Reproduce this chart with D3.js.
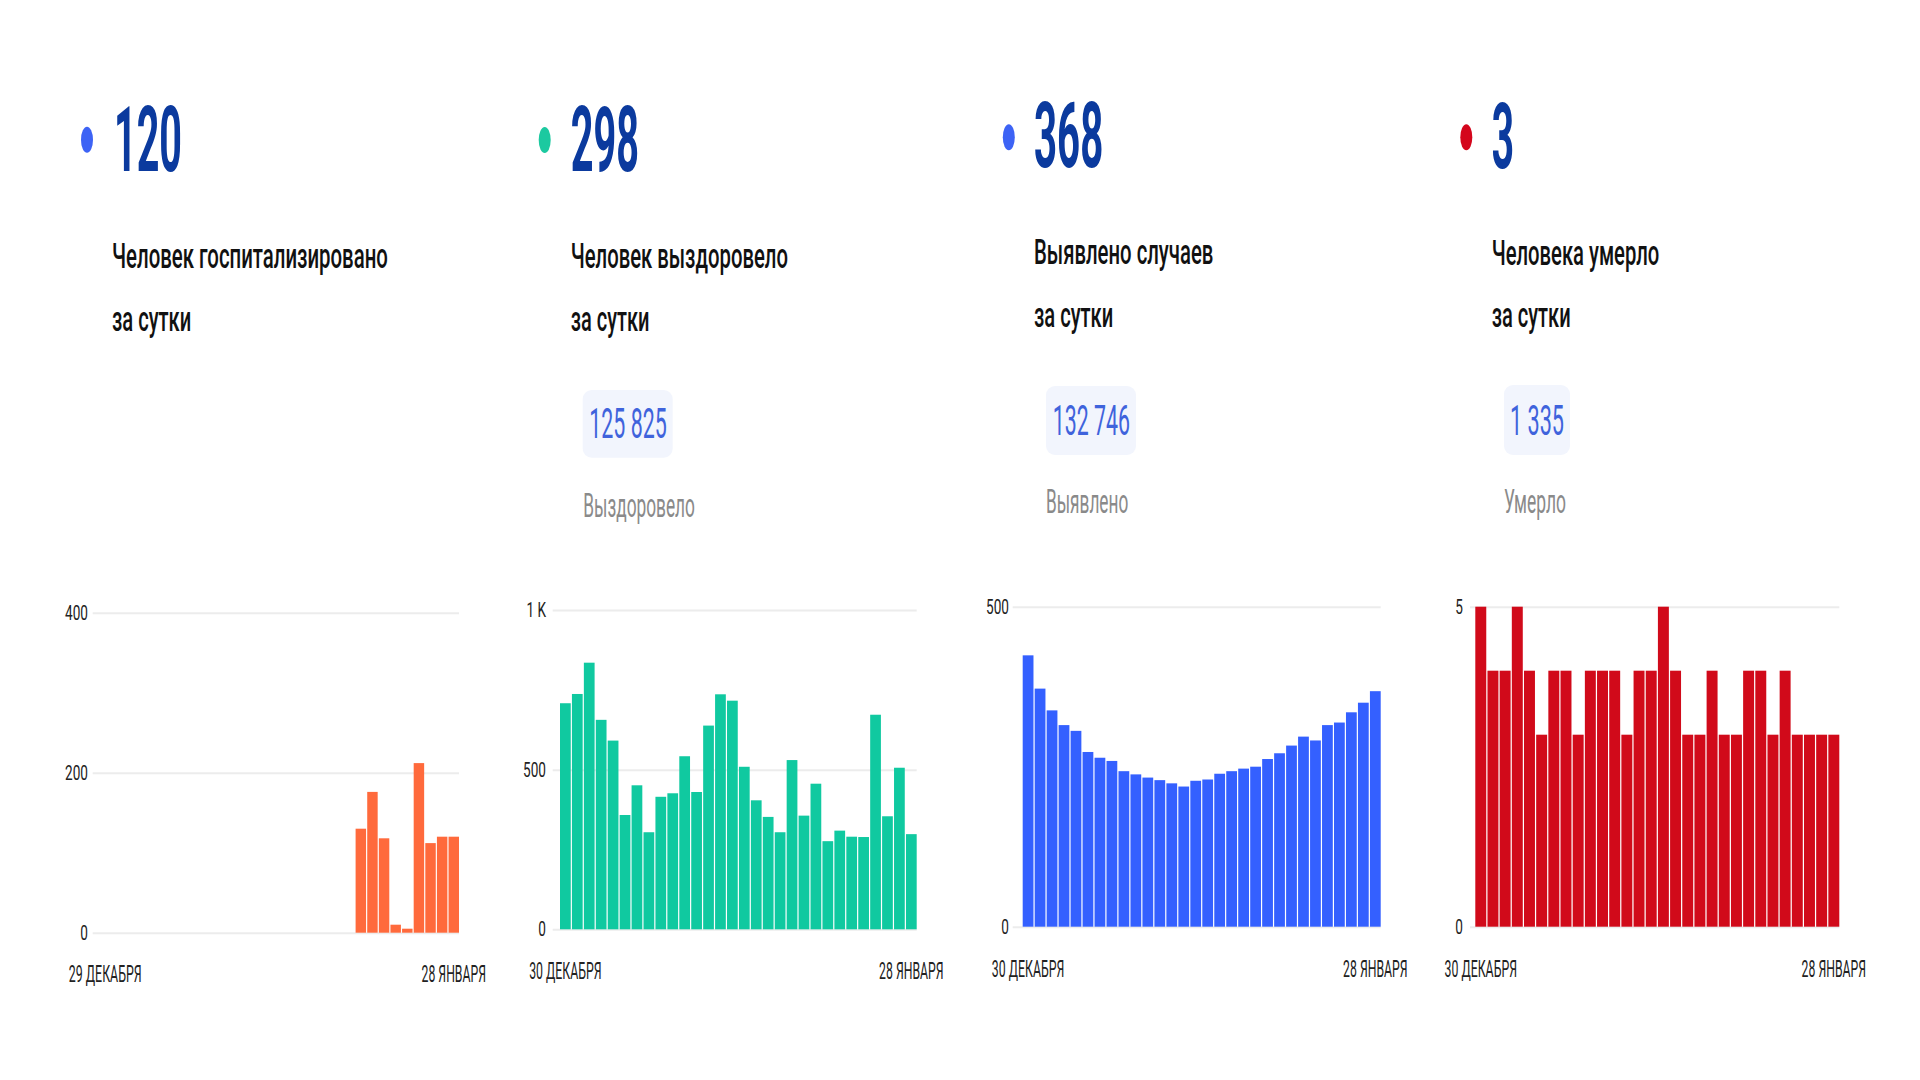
<!DOCTYPE html>
<html><head><meta charset="utf-8">
<script src="https://cdn.jsdelivr.net/npm/d3@7"></script>
<style>
body{margin:0;background:#fff}
svg{display:block}
text{font-family:Roboto,"Noto Sans",sans-serif}
</style>
</head><body>
<svg id="c" width="1920" height="1080"></svg>
<script>
// ---------------- DATA ----------------
const headlines   = ["120", "298", "368", "3"];
const titleLine1  = ["Человек госпитализировано", "Человек выздоровело", "Выявлено случаев", "Человека умерло"];
const titleLine2  = ["за сутки", "за сутки", "за сутки", "за сутки"];
const totals      = [null, "125 825", "132 746", "1 335"];
const totalLabels = [null, "Выздоровело", "Выявлено", "Умерло"];
const startLabels = ["29 ДЕКАБРЯ", "30 ДЕКАБРЯ", "30 ДЕКАБРЯ", "30 ДЕКАБРЯ"];
const endLabels   = ["28 ЯНВАРЯ", "28 ЯНВАРЯ", "28 ЯНВАРЯ", "28 ЯНВАРЯ"];

// daily values (29 Dec – 28 Jan for the first chart, 30 Dec – 28 Jan for the others)
const hospitalized = [null, null, null, null, null, null, null, null, null, null, null,
                      null, null, null, null, null, null, null, null, null, null, null,
                      130, 176, 118, 10, 5, 212, 112, 120, 120];
const recovered = [708, 737, 835, 656, 591, 358, 451, 304, 415, 426,
                   542, 430, 638, 736, 716, 509, 404, 352, 304, 530,
                   356, 456, 276, 309, 290, 289, 672, 354, 506, 298];
const detected  = [424, 372, 338, 315, 306, 273, 264, 259, 243, 238,
                   233, 229, 224, 219, 228, 230, 239, 243, 247, 250,
                   262, 271, 283, 297, 291, 315, 319, 335, 350, 368];
const deaths    = [5, 4, 4, 5, 4, 3, 4, 4, 3, 4,
                   4, 4, 3, 4, 4, 5, 4, 3, 3, 4,
                   3, 3, 4, 4, 3, 4, 3, 3, 3, 3];

const yTickValues = [[0, 200, 400], [0, 500, 1000], [0, 500], [0, 5]];
const yTickLabels = [["0", "200", "400"], ["0", "500", "1 K"], ["0", "500"], ["0", "5"]];
const yMax        = [400, 1000, 500, 5];
const series      = [hospitalized, recovered, detected, deaths];

// ---------------- STYLE / LAYOUT ----------------
const dotColors = ["#3d63f5", "#1cc9a0", "#3d63f5", "#d4061c"];
const barColors = ["#ff6a3c", "#10c9a0", "#3460ff", "#d10a1a"];

const layout = [
  {dot:[87,139.7],  num:[114,170.7,68],  t1:[112,268.3,276], t2:[112,330.5,79.3],
   chart:{x0:100, x1:459, g0:92.7, yb:932.7, yt:612.7, tickEnd:88, xlab:981.7}},
  {dot:[544.7,140], num:[570.7,170.7,68.3], t1:[570.7,268.3,217.3], t2:[570.7,330.5,78.7],
   pill:[582.7,390,90,67.7], pnum:[589.3,438.3,77.4], plab:[583.3,516.7,111.7],
   chart:{x0:560, x1:916.7, g0:552.7, yb:929.3, yt:610, tickEnd:546, xlab:979.3}},
  {dot:[1008.8,137.3], num:[1034,167.3,69.3], t1:[1034,264.3,179.4], t2:[1034,327.3,79.3],
   pill:[1046,386,90,69], pnum:[1052.7,435,77.3], plab:[1046,513.3,82.3],
   chart:{x0:1022.7, x1:1380.7, g0:1012.7, yb:926.7, yt:606.7, tickEnd:1009, xlab:976.7}},
  {dot:[1466.3,137.3], num:[1491.7,168.3,22.3], t1:[1491.7,265,167.6], t2:[1491.7,327.3,79],
   pill:[1504,385,66,70], pnum:[1510,435,54], plab:[1504,513.3,62],
   chart:{x0:1475.3, x1:1839.3, g0:1470, yb:926.7, yt:606.7, tickEnd:1463, xlab:976.7}}
];

const svg = d3.select("#c");

// draws a text squeezed horizontally (the source picture is condensed) to a given width
function fitText(g, x, y, w, txt, size, weight, color, anchor) {
  const t = g.append("text")
    .attr("x", 0).attr("y", 0)
    .attr("font-size", size)
    .attr("font-weight", weight)
    .attr("fill", color)
    .attr("text-anchor", anchor || "start")
    .text(txt);
  const natural = t.node().getComputedTextLength();
  const sx = natural > 0 ? w / natural : 1;
  t.attr("transform", `translate(${x},${y}) scale(${sx},1)`);
  return t;
}

layout.forEach((L, i) => {
  const g = svg.append("g");
  // header
  g.append("ellipse").attr("cx", L.dot[0]).attr("cy", L.dot[1]).attr("rx", 6).attr("ry", 13)
    .attr("fill", dotColors[i]);
  fitText(g, L.num[0], L.num[1], L.num[2], headlines[i], 90, 700, "#0b3a9e");
  fitText(g, L.t1[0], L.t1[1], L.t1[2], titleLine1[i], 35, 500, "#111");
  fitText(g, L.t2[0], L.t2[1], L.t2[2], titleLine2[i], 35, 500, "#111");
  if (totals[i]) {
    g.append("rect").attr("x", L.pill[0]).attr("y", L.pill[1])
      .attr("width", L.pill[2]).attr("height", L.pill[3])
      .attr("rx", 9).attr("fill", "#f2f5fd");
    fitText(g, L.pnum[0], L.pnum[1], L.pnum[2], totals[i], 42, 400, "#3f63dc");
    fitText(g, L.plab[0], L.plab[1], L.plab[2], totalLabels[i], 33, 400, "#8a8a8a");
  }

  // chart
  const C = L.chart;
  const vals = series[i];
  const days = d3.range(vals.length);
  const x = d3.scaleBand().domain(days).range([C.x0, C.x1]).paddingInner(0.1).paddingOuter(0);
  const y = d3.scaleLinear().domain([0, yMax[i]]).range([C.yb, C.yt]);

  const sx = 0.68, pad = C.g0 - C.tickEnd;
  const axis = d3.axisLeft(y)
    .tickValues(yTickValues[i])
    .tickFormat((d, k) => yTickLabels[i][k])
    .tickSize(-(C.x1 - C.g0))
    .tickPadding(0);
  const ag = g.append("g").attr("transform", `translate(${C.g0},0)`).call(axis);
  ag.select(".domain").remove();
  ag.selectAll(".tick line").attr("stroke", "#ececec").attr("stroke-width", 2);
  ag.selectAll(".tick text")
    .attr("font-family", "Roboto, 'Noto Sans', sans-serif")
    .attr("font-size", 20)
    .attr("fill", "#222")
    .attr("x", -pad / sx)
    .attr("transform", `scale(${sx},1)`);

  g.append("g").selectAll("rect")
    .data(days.filter(d => vals[d] != null))
    .join("rect")
    .attr("x", d => x(d))
    .attr("width", x.bandwidth())
    .attr("y", d => y(vals[d]))
    .attr("height", d => y(0) - y(vals[d]))
    .attr("fill", barColors[i]);

  const firstC = x(days[0]) + x.bandwidth() / 2;
  const lastC = x(days[days.length - 1]) + x.bandwidth() / 2;
  fitText(g, firstC, C.xlab, startLabels[i] === "29 ДЕКАБРЯ" ? 73 : 72.5, startLabels[i], 23, 400, "#222", "middle");
  fitText(g, lastC, C.xlab, 64.5, endLabels[i], 23, 400, "#222", "middle");
});
</script>
</body></html>
